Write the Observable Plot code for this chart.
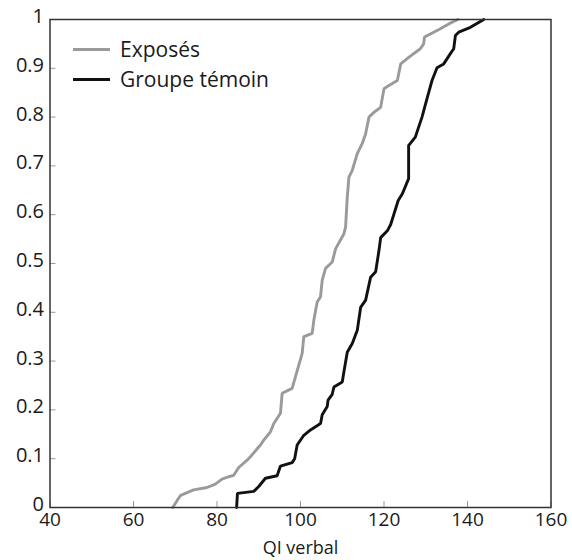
<!DOCTYPE html>
<html><head><meta charset="utf-8">
<script src="https://cdn.jsdelivr.net/npm/d3@7"></script>
<script src="https://cdn.jsdelivr.net/npm/@observablehq/plot@0.6"></script>
<style>
body{margin:0;background:#fff;}
#wrap{position:relative;width:572px;height:560px;font-family:"Open Sans",sans-serif;}
.legend{position:absolute;left:73px;top:34px;}
.row{display:flex;align-items:center;height:30px;font-size:21px;color:#1a1a1a;white-space:nowrap;}
.sw{width:37px;height:0;border-top:3px solid;margin-right:10px;}
</style></head><body><div id="wrap"></div>
<script>
const seriesNames = ["Exposés", "Groupe témoin"];
const seriesColors = ["#9a9a9a", "#111111"];
const exposesIQ = [69.4,70.5,71.3,74.4,77.6,79.6,81.2,82.8,84.0,85.2,87.2,88.0,90.4,91.2,92.8,93.6,95.2,95.6,98.0,98.8,100.4,100.8,102.8,103.2,104.0,104.8,105.2,106.0,107.6,108.4,110.4,110.8,111.2,111.6,112.4,113.6,114.8,115.6,116.4,117.6,119.2,120.0,121.2,123.2,124.0,126.0,128.7,129.5,129.7,131.9,133.5,135.5,137.7];
const exposesCum = [0,0.015,0.025,0.036,0.041,0.048,0.058,0.063,0.066,0.082,0.097,0.104,0.128,0.138,0.155,0.172,0.193,0.234,0.244,0.268,0.316,0.35,0.357,0.384,0.421,0.432,0.466,0.49,0.503,0.53,0.561,0.575,0.636,0.677,0.691,0.725,0.746,0.766,0.8,0.81,0.82,0.858,0.865,0.875,0.909,0.923,0.94,0.95,0.964,0.974,0.981,0.991,1];
const temoinIQ = [84.7,84.9,88.8,90.0,91.6,94.4,95.2,98.0,98.6,99.2,100.8,102.4,104.8,105.2,106.4,106.6,107.6,108.0,110.0,110.4,111.2,112.4,113.6,114.4,115.6,116.8,118.0,118.8,119.2,120.8,121.6,123.4,124.4,125.9,125.9,126.3,127.5,129.1,130.3,131.5,132.7,134.3,135.9,136.7,137.1,137.9,140.7,143.9];
const temoinCum = [0,0.029,0.033,0.043,0.06,0.065,0.085,0.092,0.1,0.128,0.148,0.159,0.172,0.19,0.207,0.22,0.232,0.247,0.257,0.278,0.318,0.336,0.363,0.41,0.425,0.472,0.483,0.527,0.553,0.567,0.58,0.629,0.643,0.674,0.742,0.746,0.759,0.8,0.838,0.875,0.901,0.909,0.93,0.94,0.967,0.974,0.984,1];
const xTicks = [40, 60, 80, 100, 120, 140, 160];
const yTicks = [0, 0.1, 0.2, 0.3, 0.4, 0.5, 0.6, 0.7, 0.8, 0.9, 1];
const xLabel = "QI verbal";

const rows = [
  ...exposesIQ.map((v, i) => ({series: seriesNames[0], iq: v, cum: exposesCum[i]})),
  ...temoinIQ.map((v, i) => ({series: seriesNames[1], iq: v, cum: temoinCum[i]}))
];

const chart = Plot.plot({
  width: 572, height: 560,
  marginLeft: 49.5, marginRight: 21.5, marginTop: 19, marginBottom: 53,
  style: {fontFamily: '"Open Sans", sans-serif', fontSize: "20px", color: "#1a1a1a", background: "#fff", overflow: "visible"},
  x: {domain: [40, 160]},
  y: {domain: [0, 1]},
  color: {domain: seriesNames, range: seriesColors},
  marks: [
    Plot.axisX({ticks: xTicks, tickSize: -6, stroke: "#999", tickFormat: () => "", label: null}),
    Plot.axisY({ticks: yTicks, tickSize: -6, stroke: "#999", tickFormat: () => "", label: null}),
    Plot.axisX({ticks: xTicks, tickSize: 0, tickPadding: 5, fontSize: 19, tickFormat: d => String(d), label: null}),
    Plot.axisY({ticks: yTicks, tickSize: 0, tickPadding: 6, dy: -3, tickFormat: d => String(d), label: null}),
    Plot.line(rows, {x: "iq", y: "cum", z: "series", stroke: "series", strokeWidth: 2.9, strokeLinejoin: "miter"}),
    Plot.frame({stroke: "#333", strokeWidth: 1.5}),
    Plot.text([xLabel], {frameAnchor: "bottom", dy: 34, lineAnchor: "top", fontSize: 18})
  ]
});

const wrap = document.getElementById("wrap");
wrap.appendChild(chart);
const legend = d3.select(wrap).append("div").attr("class", "legend");
seriesNames.forEach((name, i) => {
  const r = legend.append("div").attr("class", "row");
  r.append("span").attr("class", "sw").style("border-color", seriesColors[i]);
  r.append("span").text(name);
});
</script></body></html>
